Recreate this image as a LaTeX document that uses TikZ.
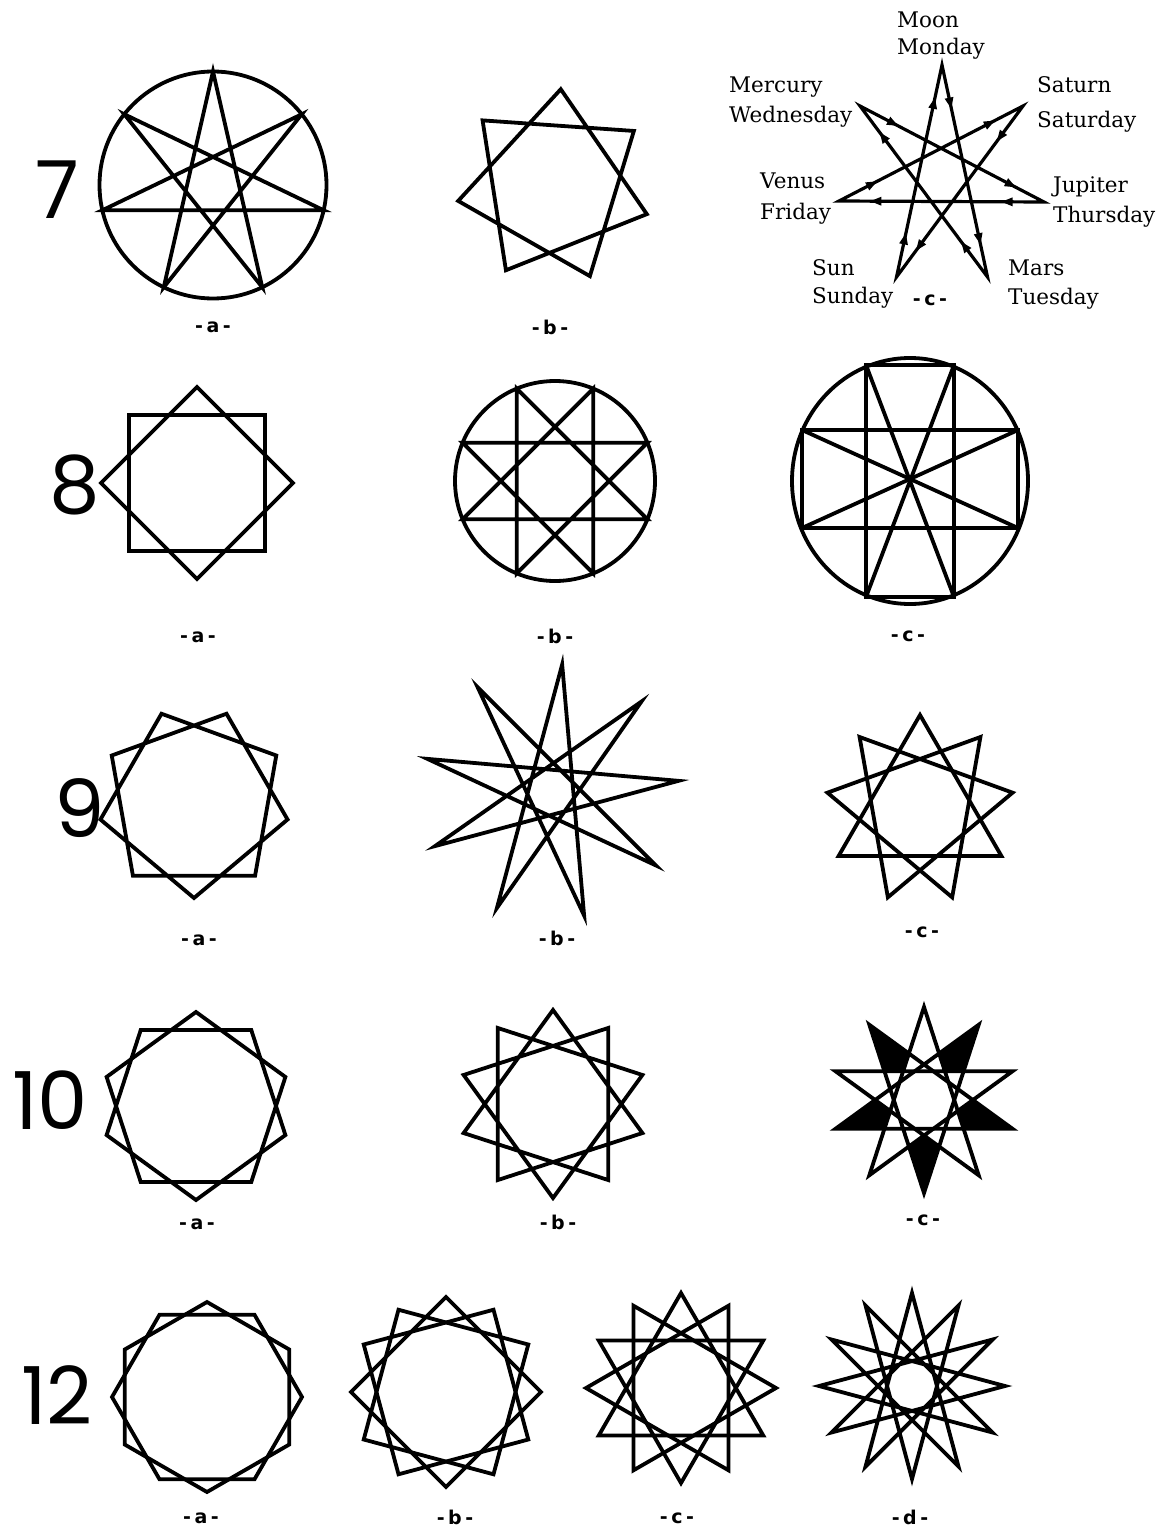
\documentclass[tikz,border=0pt]{standalone}
\usepackage{fontspec}
\newfontfamily\numfont{Poppins}
\newfontfamily\subfont{DejaVu Sans}
\newfontfamily\dayfont{DejaVu Serif}
\usetikzlibrary{decorations.markings}
\tikzset{
  starline/.style={line width=3.8pt, line join=miter, miter limit=12},
  ringline/.style={line width=3.8pt},
  numeral/.style={font=\numfont\fontsize{80}{82}\selectfont, inner sep=0pt},
  sublabel/.style={font=\subfont\bfseries\fontsize{19}{22}\selectfont, inner sep=0pt},
  daylabel/.style={font=\dayfont\fontsize{21.5}{26}\selectfont, inner sep=0pt, anchor=base west},
  arrowmarks/.style={postaction={decorate}, decoration={markings,
     mark=at position 0.18 with {\fill (5.5,0) -- (-5.5,4.5) -- (-5.5,-4.5) -- cycle;},
     mark=at position 0.82 with {\fill (5.5,0) -- (-5.5,4.5) -- (-5.5,-4.5) -- cycle;}}},
}
% #1 cx, #2 cy, #3 R, #4 n, #5 k, #6 number of cycles, #7 start angle
\newcommand\polystar[7]{%
  \begin{scope}[shift={(#1,#2)}]
  \pgfmathtruncatemacro\psmlen{#4/#6-1}
  \pgfmathsetmacro\psmstep{360/#4}
  \foreach \kc in {1,...,#6}{
    \draw[starline] ({-(#7+(\kc-1)*\psmstep)}:#3)
      \foreach \jj in {1,...,\psmlen}{ -- ({-(#7+mod(\kc-1+\jj*#5,#4)*\psmstep)}:#3) } -- cycle;
  }
  \end{scope}
}
\newcommand\sublab[1]{-\hspace{3.5pt}#1\hspace{3.5pt}-}
\begin{document}
\begin{tikzpicture}[x=1pt,y=-1pt]
\fill[white] (0,0) rectangle (1166,1530);
\useasboundingbox (0,0) rectangle (1166,1530);

% ---------- numerals ----------
\node[numeral] (n7) at (57,190) {7};
\node[numeral] (n8) at (75,485) {8};
\node[numeral] (n9) at (80,808) {9};
\node[numeral] (n10) at (50,1100) {10};
\node[numeral] (n12) at (57,1395) {12};

% ---------- row 7 ----------
\draw[ringline] (213,185) circle[radius=113.5];
\polystar{213}{185}{113.5}{7}{3}{1}{90}
\polystar{554}{186}{97}{7}{2}{1}{86}

\coordinate (Moon) at (942,65);
\coordinate (Mercury) at (860,106);
\coordinate (Venus) at (839,201);
\coordinate (Sun) at (896.5,277);
\coordinate (Mars) at (987.5,277);
\coordinate (Jupiter) at (1044,202);
\coordinate (Saturn) at (1023,106);
\draw[starline, line width=3.2pt] (Sun) -- (Moon) -- (Mars) -- (Mercury) -- (Jupiter) -- (Venus) -- (Saturn) -- cycle;
\path[arrowmarks] (Sun) -- (Moon);
\path[arrowmarks] (Moon) -- (Mars);
\path[arrowmarks] (Mars) -- (Mercury);
\path[arrowmarks] (Mercury) -- (Jupiter);
\path[arrowmarks] (Jupiter) -- (Venus);
\path[arrowmarks] (Venus) -- (Saturn);
\path[arrowmarks] (Saturn) -- (Sun);

\node[daylabel] (moonA) at (897,28) {Moon};
\node[daylabel] (moonB) at (897,55) {Monday};
\node[daylabel] (mercA) at (729,93) {Mercury};
\node[daylabel] (mercB) at (729,123) {Wednesday};
\node[daylabel] (satA) at (1037,93) {Saturn};
\node[daylabel] (satB) at (1037,128) {Saturday};
\node[daylabel] (venA) at (760,189) {Venus};
\node[daylabel] (venB) at (760,220) {Friday};
\node[daylabel] (jupA) at (1053,193) {Jupiter};
\node[daylabel] (jupB) at (1053,223) {Thursday};
\node[daylabel] (sunA) at (812,275) {Sun};
\node[daylabel] (sunB) at (812,303) {Sunday};
\node[daylabel] (marA) at (1008,276) {Mars};
\node[daylabel] (marB) at (1008,304) {Tuesday};

\node[sublabel] (l7a) at (213,327) {\sublab{a}};
\node[sublabel] (l7b) at (550,327) {\sublab{b}};
\node[sublabel] (l7c) at (930,300) {\sublab{c}};

% ---------- row 8 ----------
\polystar{197}{483}{96}{8}{2}{2}{0}
\draw[ringline] (555,481) circle[radius=100];
\polystar{555}{481}{100}{8}{3}{1}{22.5}
\draw[ringline] (910,481) ellipse[x radius=118, y radius=123];
\draw[starline] (866,365) rectangle (954,597);
\draw[starline] (802,430) rectangle (1018,528);
\draw[starline] (866,365) -- (954,597);
\draw[starline] (954,365) -- (866,597);
\draw[starline] (802,430) -- (1018,528);
\draw[starline] (1018,430) -- (802,528);

\node[sublabel] (l8a) at (198,637) {\sublab{a}};
\node[sublabel] (l8b) at (555,636) {\sublab{b}};
\node[sublabel] (l8c) at (908,636) {\sublab{c}};

% ---------- row 9 ----------
\polystar{194}{803}{95}{9}{2}{1}{270}
\polystar{551}{792}{128}{9}{4}{1}{85}
\polystar{920}{809}{94}{9}{3}{3}{90}

\node[sublabel] (l9a) at (199,940) {\sublab{a}};
\node[sublabel] (l9b) at (557,938) {\sublab{b}};
\node[sublabel] (l9c) at (922,932) {\sublab{c}};

% ---------- row 10 ----------
\polystar{196}{1106}{94}{10}{2}{2}{90}
\polystar{553}{1104}{94}{10}{3}{1}{90}
\begin{scope}[shift={(924,1100)}]
  \foreach \t in {270,342,54,126,198}{
    \fill ({-\t}:93) -- ({-(\t-18)}:48.9) -- ({-\t}:35.5) -- ({-(\t+18)}:48.9) -- cycle;
  }
\end{scope}
\polystar{924}{1100}{93}{10}{4}{2}{90}

\node[sublabel] (l10a) at (197,1224) {\sublab{a}};
\node[sublabel] (l10b) at (558,1222) {\sublab{b}};
\node[sublabel] (l10c) at (923,1220) {\sublab{c}};

% ---------- row 12 ----------
\polystar{207}{1397}{95}{12}{2}{2}{90}
\polystar{446}{1392}{95}{12}{3}{3}{90}
\polystar{681}{1388}{95}{12}{4}{4}{90}
\polystar{912}{1386}{93}{12}{5}{1}{90}

\node[sublabel] (l12a) at (201,1518) {\sublab{a}};
\node[sublabel] (l12b) at (455,1517) {\sublab{b}};
\node[sublabel] (l12c) at (677,1518) {\sublab{c}};
\node[sublabel] (l12d) at (910,1517) {\sublab{d}};
\end{tikzpicture}
\end{document}
